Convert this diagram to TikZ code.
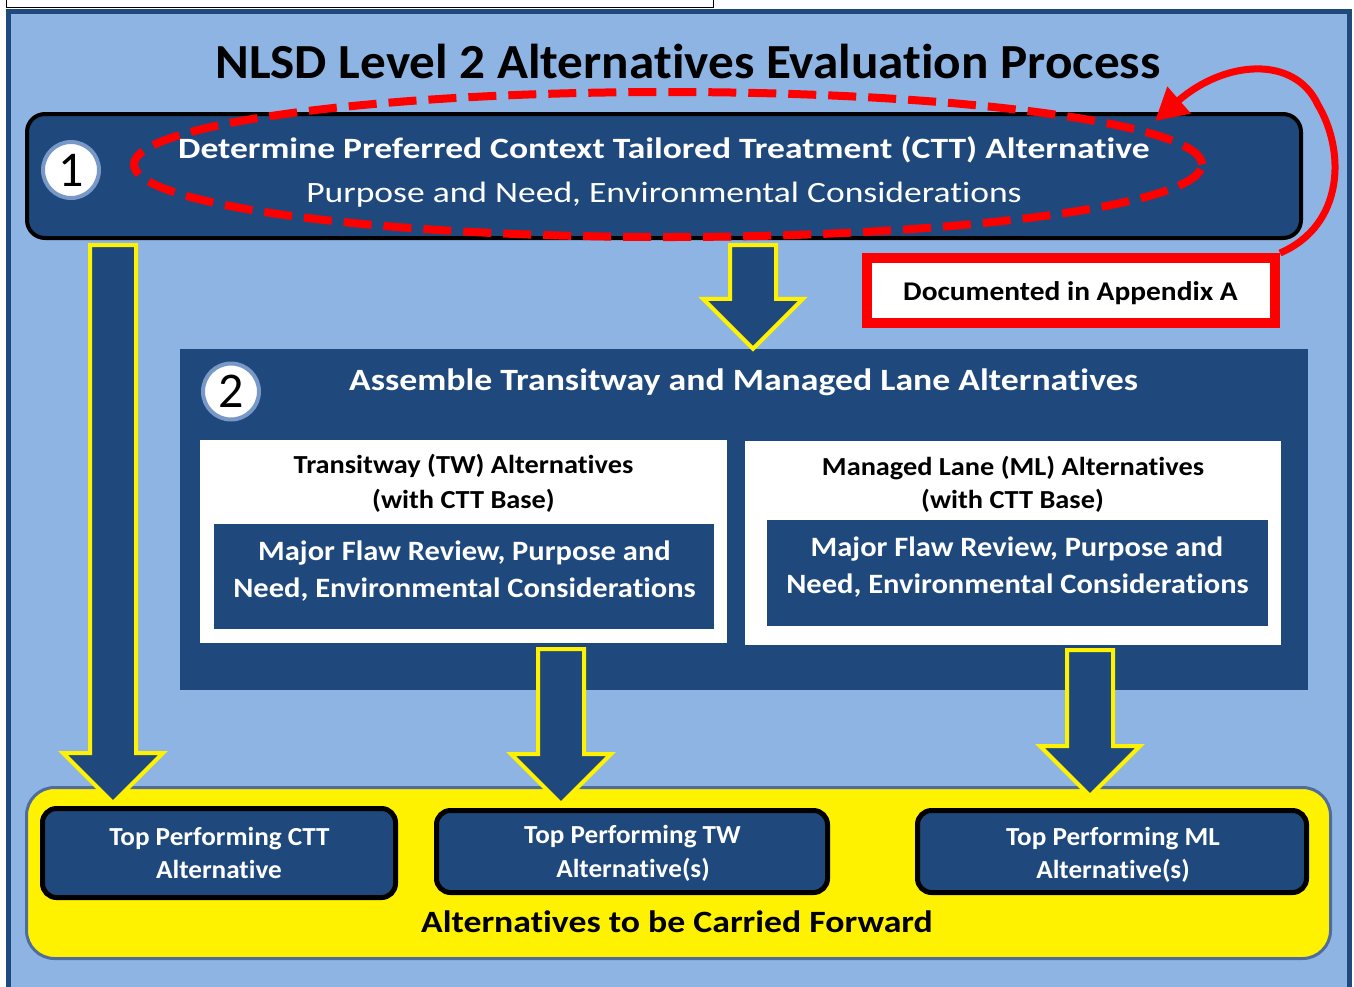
\documentclass[tikz,border=0pt]{standalone}
\usepackage{fontspec}
\defaultfontfeatures{RawFeature={-liga;-clig;-calt}}
\setmainfont{Carlito}
\newfontfamily\widest[FakeStretch=1.205]{Carlito}
\newfontfamily\wider[FakeStretch=1.153]{Carlito}
\newfontfamily\wide[FakeStretch=1.09]{Carlito}
\newfontfamily\slight[FakeStretch=1.045]{Carlito}
\usetikzlibrary{calc,arrows.meta}

\definecolor{navy}{RGB}{31,73,125}
\definecolor{sky}{RGB}{142,180,227}
\definecolor{glow}{RGB}{120,152,200}
\definecolor{rim}{RGB}{79,108,156}

\tikzset{
  panel/.style={draw=navy, line width=5pt, fill=sky},
  stagebox/.style={rectangle, draw=black, line width=4pt, fill=navy, rounded corners=18pt},
  blockbox/.style={rectangle, fill=navy},
  whitebox/.style={rectangle, fill=white},
  forwardbox/.style={rectangle, draw=rim, line width=3pt, fill=yellow, rounded corners=28pt},
  resultbox/.style={rectangle, draw=black, line width=5pt, fill=navy, rounded corners=14pt},
  notebox/.style={rectangle, draw=red, line width=10pt, fill=white},
  numdot/.style={circle, fill=white, draw=glow, line width=4pt, minimum size=56pt, inner sep=0pt,
    font=\fontsize{50}{50}\selectfont},
  hollowarrow/.style={draw=yellow, line width=4pt, fill=navy, line join=miter},
  redloop/.style={draw=red, line width=8pt, dash pattern=on 28pt off 12pt},
  redcurve/.style={draw=red, line width=7pt, -{Triangle[length=32pt,width=34pt]}},
  words/.style={anchor=base, inner sep=0pt},
  bigtitle/.style={words, font=\slight\bfseries\fontsize{49}{49}\selectfont},
  boldwhite/.style 2 args={words, text=white, font=#2\bfseries\fontsize{#1}{#1}\selectfont},
  thinwhite/.style 2 args={words, text=white, font=#2\fontsize{#1}{#1}\selectfont},
  boldblack/.style 2 args={words, font=#2\bfseries\fontsize{#1}{#1}\selectfont}
}

% #1 top of the shaft, #2 tip
\newcommand{\bigarrow}[2]{%
  \draw[hollowarrow] let \p1=(#1), \p2=(#2) in
    (\x1-23pt,\y1) -- (\x1+23pt,\y1) -- (\x1+23pt,\y2+50pt) -- (\x1+50pt,\y2+50pt)
    -- (\x1,\y2) -- (\x1-50pt,\y2+50pt) -- (\x1-23pt,\y2+50pt) -- cycle;}

\begin{document}
\begin{tikzpicture}[x=1pt,y=-1pt]
\useasboundingbox (0,0) rectangle (1354,986);
\fill[white] (0,0) rectangle (1354,986);

\draw[fill=white, line width=1pt] (6,-5) rectangle (713,7);
\draw[panel] (8.5,11.5) rectangle (1349.5,1000);

\draw (688,78) node[bigtitle] (title) {NLSD Level 2 Alternatives Evaluation Process};

\draw (664,176) node[stagebox, minimum width=1274pt, minimum height=124pt] (ctt) {};
\draw (71,170) node[numdot] (one) {1};
\draw (664,158) node[boldwhite={29.5}{\widest}] (ctta) {Determine Preferred Context Tailored Treatment (CTT) Alternative};
\draw (664,202) node[thinwhite={29.5}{\widest}] (cttb) {Purpose and Need, Environmental Considerations};

\draw (744,519.5) node[blockbox, minimum width=1128pt, minimum height=341pt] (assemble) {};
\draw (231,391.5) node[numdot] (two) {2};
\draw (743.5,390) node[boldwhite={31}{\wider}] (assa) {Assemble Transitway and Managed Lane Alternatives};

\draw (463.5,541.5) node[whitebox, minimum width=527pt, minimum height=203pt] (tw) {};
\draw (464,576.5) node[blockbox, minimum width=500pt, minimum height=105pt] (twrev) {};
\draw (463.5,473) node[boldblack={26}{\wide}] (twa) {Transitway (TW) Alternatives};
\draw (463.5,508) node[boldblack={26}{\wide}] (twb) {(with CTT Base)};
\draw (464.5,560) node[boldwhite={28}{\wide}] (twc) {Major Flaw Review, Purpose and};
\draw (464.5,597) node[boldwhite={28}{\wide}] (twd) {Need, Environmental Considerations};

\draw (1013,543) node[whitebox, minimum width=536pt, minimum height=204pt] (ml) {};
\draw (1017.5,573) node[blockbox, minimum width=501pt, minimum height=106pt] (mlrev) {};
\draw (1013,475) node[boldblack={26}{\wide}] (mla) {Managed Lane (ML) Alternatives};
\draw (1012.5,508) node[boldblack={26}{\wide}] (mlb) {(with CTT Base)};
\draw (1017,556.5) node[boldwhite={28}{\wide}] (mlc) {Major Flaw Review, Purpose and};
\draw (1017.5,593) node[boldwhite={28}{\wide}] (mld) {Need, Environmental Considerations};

\draw (678.5,873) node[forwardbox, minimum width=1304pt, minimum height=171pt] (forward) {};
\draw (677,932) node[boldblack={31}{\wider}] (fwd) {Alternatives to be Carried Forward};

\draw (219,853) node[resultbox, minimum width=353pt, minimum height=89pt] (cttres) {};
\draw (219.5,845) node[boldwhite={26}{\slight}] (cttresa) {Top Performing CTT};
\draw (219,878) node[boldwhite={26}{\slight}] (cttresb) {Alternative};

\draw (632,851.5) node[resultbox, minimum width=391pt, minimum height=82pt] (twres) {};
\draw (632.5,843) node[boldwhite={26}{\slight}] (twresa) {Top Performing TW};
\draw (633,877) node[boldwhite={26}{\slight}] (twresb) {Alternative(s)};

\draw (1112,851.5) node[resultbox, minimum width=389pt, minimum height=82pt] (mlres) {};
\draw (1113,845) node[boldwhite={26}{\slight}] (mlresa) {Top Performing ML};
\draw (1113,878) node[boldwhite={26}{\slight}] (mlresb) {Alternative(s)};

\coordinate (s0) at (113,245);
\coordinate (s1) at (753,245);
\coordinate (s2) at (561,649);
\coordinate (s3) at (1090,650);
\bigarrow{s0}{$(s0 |- cttres.north)+(0,-3)$}
\bigarrow{s1}{s1 |- assemble.north}
\bigarrow{s2}{$(s2 |- twres.north)+(0,-4)$}
\bigarrow{s3}{$(s3 |- mlres.north)+(0,-12)$}

\draw[redloop] (668,164.5) ellipse [x radius=534pt, y radius=72.5pt];

\draw (1071,290.5) node[notebox, minimum width=408pt, minimum height=65pt] (appendix) {};
\draw (1070.5,300) node[boldblack={27}{\wide}] (appa) {Documented in Appendix A};
\draw[redcurve] (appendix.north east) .. controls (1345,225) and (1345,150) .. (1318,105)
  .. controls (1295,55) and (1225,60) .. (1155,121);

\end{tikzpicture}
\end{document}
